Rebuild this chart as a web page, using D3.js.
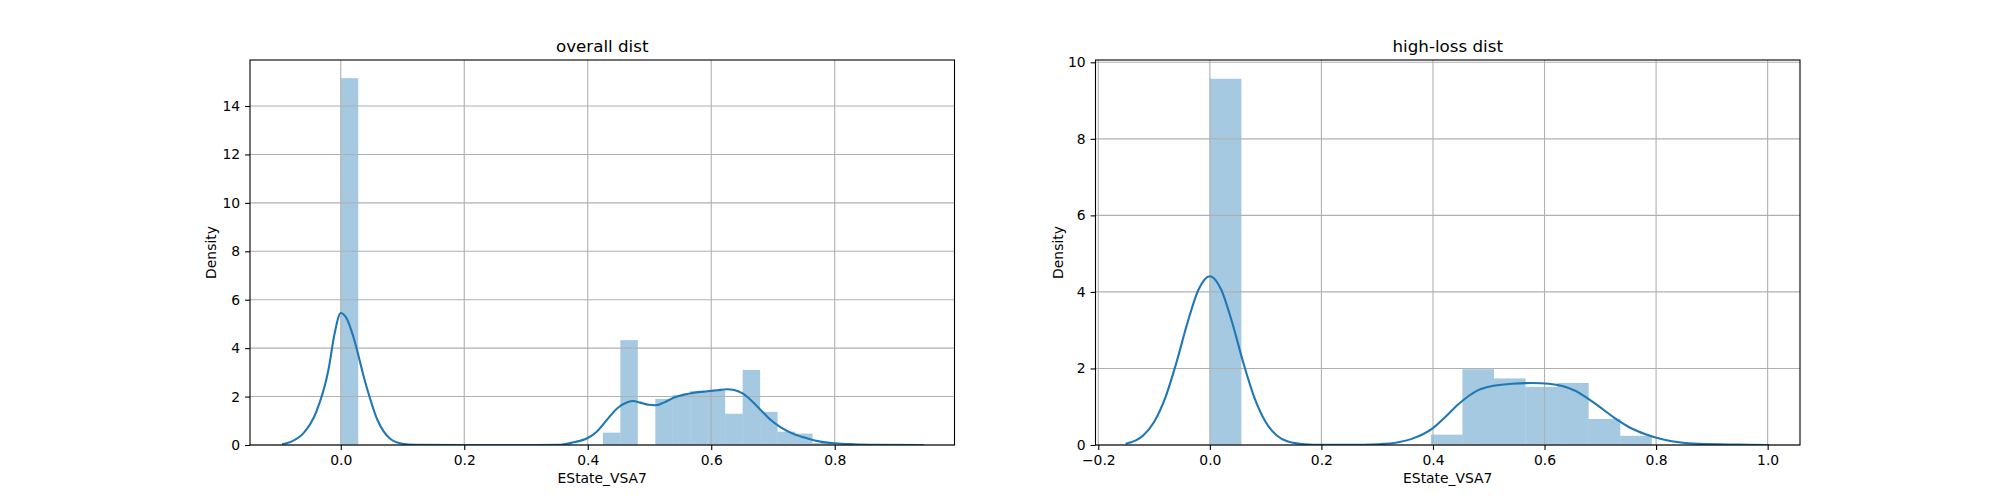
<!DOCTYPE html>
<meta charset="utf-8">
<script src="https://d3js.org/d3.v7.min.js"></script>
<style>
  body { margin: 0; background: #fff; }
  text { font-family: "DejaVu Sans", sans-serif; fill: #000; }
</style>
<div id="my_dataviz"></div>
<script>

// ---- data ----
// overall dist: histogram (bins start at 0) + kde
var overallBinWidth = 0.0283;
var overallDensity = [15.15, 0, 0, 0, 0, 0, 0, 0, 0, 0, 0, 0, 0, 0, 0,
                      0.51, 4.33, 0, 1.9, 2.07, 2.23, 2.23, 1.29, 3.1, 1.37, 0.55, 0.47, 0.08];
var overallKdeX = [-0.095, -0.08, -0.06, -0.04, -0.02, -0.01, 0, 0.01, 0.02, 0.04, 0.06, 0.08, 0.1, 0.12, 0.2, 0.3, 0.356,
                   0.377, 0.4, 0.415, 0.431, 0.448, 0.464, 0.4735, 0.485, 0.499, 0.51, 0.523, 0.539, 0.556, 0.572,
                   0.5935, 0.61, 0.626, 0.637, 0.65, 0.664, 0.68, 0.696, 0.712, 0.734, 0.756, 0.777, 0.8, 0.831, 0.869, 0.945];
var overallKdeY = [0.03, 0.14, 0.5, 1.35, 3.1, 4.6, 5.45, 5.2, 4.5, 2.56, 1.0, 0.26, 0.05, 0.01, 0, 0, 0.01,
                   0.11, 0.29, 0.56, 1.04, 1.52, 1.77, 1.82, 1.75, 1.66, 1.64, 1.75, 1.95, 2.08, 2.16,
                   2.22, 2.26, 2.3, 2.27, 2.14, 1.86, 1.45, 1.04, 0.74, 0.45, 0.27, 0.14, 0.07, 0.03, 0.01, 0];

// high-loss dist
var highBinWidth = 0.0566;
var highDensity = [9.57, 0, 0, 0, 0, 0, 0, 0.27, 1.98, 1.74, 1.52, 1.62, 0.68, 0.24];
var highKdeX = [-0.151, -0.12, -0.1, -0.08, -0.06, -0.04, -0.02, 0, 0.02, 0.04, 0.06, 0.08, 0.1, 0.12, 0.14, 0.17, 0.2, 0.25,
                0.302, 0.338, 0.362, 0.4, 0.422, 0.446, 0.464, 0.482, 0.506, 0.542, 0.578, 0.608, 0.632, 0.656,
                0.68, 0.704, 0.728, 0.751, 0.781, 0.811, 0.841, 0.877, 0.949, 1.003];
var highKdeY = [0.03, 0.24, 0.6, 1.23, 2.15, 3.2, 4.07, 4.41, 4.07, 3.2, 2.15, 1.23, 0.6, 0.25, 0.09, 0.02, 0.005, 0.005,
                0.02, 0.07, 0.16, 0.44, 0.73, 1.07, 1.28, 1.44, 1.54, 1.6, 1.62, 1.6, 1.54, 1.41,
                1.19, 0.94, 0.68, 0.47, 0.28, 0.15, 0.07, 0.03, 0.01, 0];

var overallXTicks = [0.0, 0.2, 0.4, 0.6, 0.8];
var overallYTicks = [0, 2, 4, 6, 8, 10, 12, 14];
var highXTicks = [-0.2, 0.0, 0.2, 0.4, 0.6, 0.8, 1.0];
var highYTicks = [0, 2, 4, 6, 8, 10];

var titles = ["overall dist", "high-loss dist"];
var xLabel = "EState_VSA7";
var yLabel = "Density";

// ---- layout ----
var W = 2000, H = 500;
var svg = d3.select("#my_dataviz").append("svg")
  .attr("width", W).attr("height", H);

var panels = [
  { left: 250, right: 954.5, xdom: [-0.147, 0.994], ydom: [0, 15.9],
    binW: overallBinWidth, dens: overallDensity, kx: overallKdeX, ky: overallKdeY,
    xt: overallXTicks, yt: overallYTicks, title: titles[0] },
  { left: 1095.5, right: 1800, xdom: [-0.205, 1.058], ydom: [0, 10.06],
    binW: highBinWidth, dens: highDensity, kx: highKdeX, ky: highKdeY,
    xt: highXTicks, yt: highYTicks, title: titles[1] }
];
var plotTop = 60, plotBottom = 445;

panels.forEach(function(p, pi) {
  var x = d3.scaleLinear().domain(p.xdom).range([p.left, p.right]);
  var y = d3.scaleLinear().domain(p.ydom).range([plotBottom, plotTop]);

  var g = svg.append("g");
  var clipId = "clip" + pi;
  g.append("clipPath").attr("id", clipId).append("rect")
    .attr("x", p.left).attr("y", plotTop).attr("width", p.right - p.left).attr("height", plotBottom - plotTop);

  // histogram bars
  var bins = p.dens.map(function(d, i) { return { x0: i * p.binW, x1: (i + 1) * p.binW, v: d }; })
    .filter(function(b) { return b.v > 0; });
  g.append("g").selectAll("rect").data(bins).enter().append("rect")
    .attr("x", function(d) { return x(d.x0); })
    .attr("y", function(d) { return y(d.v); })
    .attr("width", function(d) { return x(d.x1) - x(d.x0); })
    .attr("height", function(d) { return y(0) - y(d.v); })
    .attr("fill", "#1f77b4").attr("fill-opacity", 0.4);

  // grid (above bars, below line)
  var grid = g.append("g").attr("stroke", "#b0b0b0").attr("stroke-width", 1.1);
  grid.selectAll(".gx").data(p.xt).enter().append("line")
    .attr("x1", function(d) { return x(d); }).attr("x2", function(d) { return x(d); })
    .attr("y1", plotTop).attr("y2", plotBottom);
  grid.selectAll(".gy").data(p.yt).enter().append("line")
    .attr("x1", p.left).attr("x2", p.right)
    .attr("y1", function(d) { return y(d); }).attr("y2", function(d) { return y(d); });

  // kde line
  var pts = p.kx.map(function(v, i) { return [v, p.ky[i]]; });
  g.append("path").datum(pts)
    .attr("clip-path", "url(#" + clipId + ")")
    .attr("fill", "none").attr("stroke", "#1f77b4").attr("stroke-width", 2.1)
    .attr("d", d3.line().curve(d3.curveMonotoneX)
      .x(function(d) { return x(d[0]); }).y(function(d) { return y(d[1]); }));

  // axes
  var xAxis = d3.axisBottom(x).tickValues(p.xt).tickFormat(d3.format(".1f"))
    .tickSize(4.9).tickPadding(4.9);
  var yAxis = d3.axisLeft(y).tickValues(p.yt).tickFormat(d3.format("d"))
    .tickSize(4.9).tickPadding(4.9);
  var gx = svg.append("g").attr("transform", "translate(0," + plotBottom + ")").call(xAxis);
  var gy = svg.append("g").attr("transform", "translate(" + p.left + ",0)").call(yAxis);
  [gx, gy].forEach(function(a) {
    a.select(".domain").remove();
    a.selectAll("line").attr("stroke", "#000").attr("stroke-width", 1.1);
    a.selectAll("text").style("font-size", "13.9px").attr("fill", "#000");
  });

  // frame
  svg.append("rect")
    .attr("x", p.left).attr("y", plotTop).attr("width", p.right - p.left).attr("height", plotBottom - plotTop)
    .attr("fill", "none").attr("stroke", "#000").attr("stroke-width", 1.1);

  // title and labels
  svg.append("text").attr("x", (p.left + p.right) / 2).attr("y", plotTop - 8.5)
    .attr("text-anchor", "middle").style("font-size", "16.7px").text(p.title);
  svg.append("text").attr("x", (p.left + p.right) / 2).attr("y", 483)
    .attr("text-anchor", "middle").style("font-size", "13.9px").text(xLabel);
  var yLabX = p.left - (pi === 0 ? 34 : 33);
  svg.append("text")
    .attr("transform", "translate(" + yLabX + "," + ((plotTop + plotBottom) / 2) + ") rotate(-90)")
    .attr("text-anchor", "middle").style("font-size", "13.9px").text(yLabel);
});

</script>
